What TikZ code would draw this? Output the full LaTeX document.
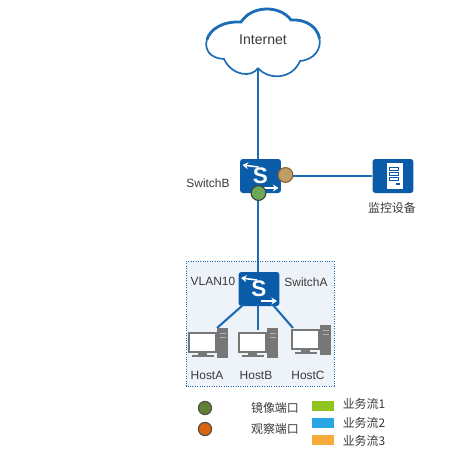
\documentclass[tikz,border=0pt]{standalone}
\usepackage{fontspec}
\setmainfont{Liberation Sans}
\newfontfamily\cjk{Noto Sans CJK SC}
\usetikzlibrary{arrows.meta}
\definecolor{swblue}{HTML}{0B5CA8}
\definecolor{linkblue}{HTML}{1C6DB5}
\definecolor{txtgray}{HTML}{3A3A3A}
\definecolor{areafill}{HTML}{EEF3FA}
\definecolor{portgreen}{HTML}{6BA858}
\definecolor{portbrown}{HTML}{BF9F68}
\definecolor{legendgreen}{HTML}{5F7F35}
\definecolor{legendorange}{HTML}{DB650F}
\definecolor{flowgreen}{HTML}{8FC31F}
\definecolor{flowblue}{HTML}{29A5E3}
\definecolor{floworange}{HTML}{F7AB3C}
\definecolor{hostgray}{HTML}{777777}
\tikzset{
  link/.style={draw=linkblue,line width=1.5pt},
  switchbox/.style={draw=none,fill=swblue,rounded corners=2pt,minimum width=1.02cm,minimum height=0.85cm,inner sep=0pt},
  port/.style={circle,line width=0.8pt,minimum size=0.37cm,inner sep=0pt},
  label/.style={text=txtgray,font=\fontsize{8.5}{9}\selectfont,inner sep=0pt},
  cjklabel/.style={text=txtgray,font=\fontsize{8.5}{9}\selectfont\cjk,inner sep=0pt},
  flowbox/.style={minimum width=0.55cm,minimum height=0.24cm,inner sep=0pt},
}
\begin{document}
\begin{tikzpicture}[x=0.025cm,y=-0.025cm]
\useasboundingbox (0,0) rectangle (450,450);
\fill[white] (0,0) rectangle (450,450);
% ---------- VLAN10 虚线框 ----------
\draw[draw=linkblue,fill=areafill,densely dotted,line width=0.7pt] (186,261) rectangle (334,386);
% ---------- 云 ----------
\coordinate (cloudfoot) at (258,68);
\draw[linkblue,line width=1.2pt,fill=white]
  (cloudfoot) .. controls (268,80) and (292,80) .. (300,61)
  .. controls (330,58) and (325,18) .. (291,20)
  .. controls (280,5) and (252,5) .. (241,22)
  .. controls (202,20) and (195,58) .. (224,59)
  .. controls (232,76) and (252,78) .. (cloudfoot);
\draw[linkblue,line width=2pt] (319.5,38.6) .. controls (317.75,28.5) and (308,19) .. (291,20)
  .. controls (280,5) and (252,5) .. (241,22)
  .. controls (221.5,21) and (210,30) .. (207,39.4);
\node[label,font=\fontsize{10}{10}\selectfont] (internet) at (263,40) {Internet};
% ---------- 交换机 ----------
\node[switchbox] (switchB) at (260.5,176) {};
\node[switchbox] (switchA) at (259,289) {};
\node[switchbox] (monitor) at (393,176) {};
% S 与箭头
\foreach \sw in {switchB,switchA}{
  \node[text=white,inner sep=0pt,font=\fontsize{16}{16}\selectfont\bfseries] (\sw letter) at (\sw) {S};
  \draw[white,line width=1.1pt,-{Stealth[length=4pt,width=5pt]},shift={(\sw)}] (-2,-9) -- (-18,-11);
  \draw[white,line width=1.1pt,-{Stealth[length=4pt,width=5pt]},shift={(\sw)}] (2,12) -- (18,12);
}
% 监控设备图标
\fill[white] (387,163) rectangle (403,189);
\foreach \y in {167,172,177}
  \draw[swblue,line width=0.6pt] (389,\y) rectangle (398,\y+3);
\fill[swblue] (396,183) rectangle (400,184.5);
% ---------- 连线 ----------
\coordinate (switchBtop) at (258,159);
\coordinate (switchBbottom) at (258,193);
\coordinate (switchAtop) at (258,272);
\coordinate (hostAtop) at (217,328);
\coordinate (hostBtop) at (258,330);
\coordinate (hostCtop) at (293,328);
\draw[link] (cloudfoot) -- (switchBtop);
\draw[link] (switchBbottom) -- (switchAtop);
\draw[link] (switchB.east) -- (monitor.west);
\draw[link] (243,305) -- (hostAtop);
\draw[link] (258,305) -- (hostBtop);
\draw[link] (273,305) -- (hostCtop);
% ---------- 端口 ----------
\node[port,fill=portgreen,draw=black!75] (portG) at (258.5,193) {};
\node[port,fill=portbrown,draw=brown!75!black] (portB) at (285.5,175) {};
% ---------- 主机 ----------
\foreach \name/\hx/\hy/\tx in {HostA/188/332/207,HostB/238/332/256,HostC/291/329/308}{
  \fill[hostgray] (\hx+29,\hy-4) rectangle (\hx+40,\hy+26);
  \draw[white!70!black,line width=0.4pt] (\hx+32,\hy+1) -- (\hx+38,\hy+1) (\hx+32,\hy+5) -- (\hx+38,\hy+5);
  \draw[hostgray,fill=white,line width=1.5pt] (\hx+1,\hy+1) rectangle (\hx+28,\hy+20);
  \fill[hostgray] (\hx+10,\hy+21) rectangle (\hx+19,\hy+23);
  \fill[hostgray] (\hx+4,\hy+23) rectangle (\hx+26,\hy+25);
  \node[label] (\name) at (\tx,375) {\name};
}
% ---------- 标签 ----------
\node[label] (switchBlabel) at (208,183) {SwitchB};
\node[label] (vlanlabel) at (213,281) {VLAN10};
\node[label] (switchAlabel) at (306,282) {SwitchA};
\node[cjklabel] (monitorlabel) at (392,208) {监控设备};
% ---------- 图例 ----------
\node[port,fill=legendgreen,draw=black!70,minimum size=0.33cm] (legendG) at (205,408) {};
\node[port,fill=legendorange,draw=black!70,minimum size=0.33cm] (legendO) at (205,429) {};
\node[cjklabel] (mirrorlabel) at (275,408) {镜像端口};
\node[cjklabel] (observelabel) at (275,429) {观察端口};
\node[flowbox,fill=flowgreen] (flow1) at (323,406) {};
\node[flowbox,fill=flowblue] (flow2) at (323,423) {};
\node[flowbox,fill=floworange] (flow3) at (323,440) {};
\node[cjklabel] (flow1label) at (364,404) {业务流1};
\node[cjklabel] (flow2label) at (364,423) {业务流2};
\node[cjklabel] (flow3label) at (364,441) {业务流3};
\end{tikzpicture}
\end{document}
